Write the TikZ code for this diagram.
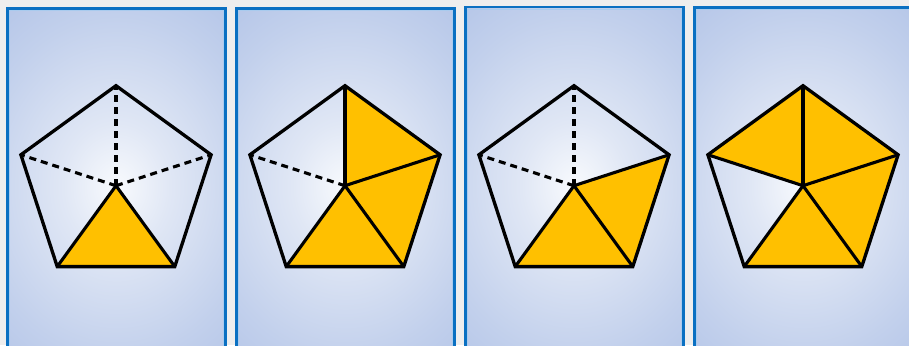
\documentclass[tikz,border=0pt]{standalone}
\usetikzlibrary{calc}

\definecolor{pagegray}{HTML}{EEEEEE}
\definecolor{frameblue}{HTML}{0A70C2}
\definecolor{frameglint}{HTML}{A9CBEE}
\definecolor{glowwhite}{HTML}{F8FAFD}
\definecolor{glowpale}{HTML}{E0E7F5}
\definecolor{glowmid}{HTML}{C2D0EC}
\definecolor{glowblue}{HTML}{ABBEE5}
\definecolor{partgold}{HTML}{FFC000}

\pgfdeclareradialshading{panelglow}{\pgfpoint{0bp}{0bp}}{%
  color(0bp)=(glowwhite); color(9bp)=(glowpale); color(24bp)=(glowmid);
  color(38bp)=(glowblue); color(50bp)=(glowblue)}

\begin{document}
\begin{tikzpicture}[
  x=1pt, y=1pt,
  panel/.style ={shading=panelglow},
  frame/.style ={draw=frameblue, line width=2.4pt},
  glint/.style ={draw=frameglint, line width=0.9pt},
  part/.style  ={fill=partgold},
  edge/.style  ={draw=black, line width=3.3pt, line join=miter},
  spoke/.style ={draw=black, line width=3.1pt},
  hidden/.style={draw=black, line width=3.1pt, dash pattern=on 7pt off 5pt},
]

% ---------- page ----------
\fill[pagegray] (0,0) rectangle (909,345);
\useasboundingbox (0,0) rectangle (909,345);

% ---------- panels + pentagon corners ----------
\foreach \i/\cx/\top in {1/116/336.5, 2/345/336.5, 3/574/338, 4/803/337.5} {
  \begin{scope}
    \clip (\cx-108.5,-20) rectangle (\cx+109.5,\top);
    \shade[panel] (\cx-148,-20) rectangle (\cx+149,\top);
  \end{scope}
  \draw[glint]  (\cx-106.4,-20) rectangle (\cx+107.4,\top-2.1);
  \draw[frame]  (\cx-108.5,-20) rectangle (\cx+109.5,\top);
  \coordinate (m\i) at (\cx,159.3);
  \foreach \k/\a in {1/90, 2/18, 3/-54, 4/-126, 5/162}
    \coordinate (v\i\k) at ($(m\i)+(\a:100)$);
}

% ---------- shaded parts ----------
\fill[part] (m1) -- (v13) -- (v14) -- cycle;
\fill[part] (m2) -- (v21) -- (v22) -- (v23) -- (v24) -- cycle;
\fill[part] (m3) -- (v32) -- (v33) -- (v34) -- cycle;
\fill[part] (m4) -- (v45) -- (v41) -- (v42) -- (v43) -- (v44) -- cycle;

% ---------- spokes ----------
\draw[hidden] (m1) -- (v11); \draw[hidden] (m1) -- (v12); \draw[hidden] (m1) -- (v15);
\draw[spoke]  (m1) -- (v13); \draw[spoke]  (m1) -- (v14);

\draw[hidden] (m2) -- (v25);
\draw[spoke]  (m2) -- (v21); \draw[spoke]  (m2) -- (v22);
\draw[spoke]  (m2) -- (v23); \draw[spoke]  (m2) -- (v24);

\draw[hidden] (m3) -- (v31); \draw[hidden] (m3) -- (v35);
\draw[spoke]  (m3) -- (v32); \draw[spoke]  (m3) -- (v33); \draw[spoke]  (m3) -- (v34);

\foreach \k in {1,...,5}
  \draw[spoke] (m4) -- (v4\k);

% ---------- outlines ----------
\foreach \i in {1,...,4}
  \draw[edge] (v\i1) -- (v\i2) -- (v\i3) -- (v\i4) -- (v\i5) -- cycle;

\end{tikzpicture}
\end{document}
